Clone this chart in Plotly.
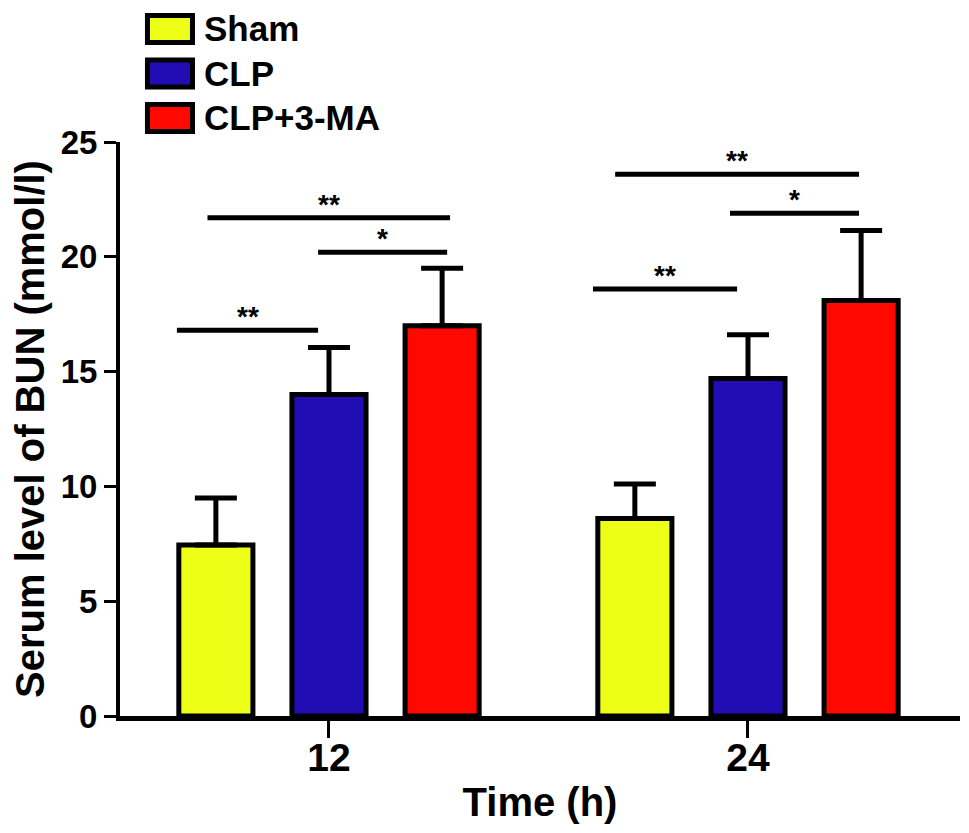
import plotly.graph_objects as go

# time points (h) and groups
times = ["12", "24"]
groups = ["Sham", "CLP", "CLP+3-MA"]
colors = ["#EEFF17", "#220DB4", "#FF0800"]

# mean serum BUN (mmol/l) and upper SEM
sham = [7.45, 8.6]
clp = [14.0, 14.7]
clp_3ma = [17.0, 18.1]
sham_err = [2.05, 1.5]
clp_err = [2.05, 1.9]
clp_3ma_err = [2.5, 3.05]

# significance brackets: time index, start/end offset from the time tick, height, label
sig_time = [0, 0, 0, 1, 1, 1]
sig_x0 = [-0.29, -0.026, -0.363, -0.317, -0.043, -0.37]
sig_x1 = [0.289, 0.282, -0.026, 0.265, 0.265, -0.026]
sig_y = [21.7, 20.2, 16.8, 23.6, 21.9, 18.6]
sig_label = ["**", "*", "**", "**", "*", "**"]

FONT = "Liberation Sans, Arial, sans-serif"
means = [sham, clp, clp_3ma]
errs = [sham_err, clp_err, clp_3ma_err]

fig = go.Figure()
for name, col, m, e in zip(groups, colors, means, errs):
    fig.add_trace(go.Bar(
        x=times, y=m, name=name,
        marker=dict(color=col, line=dict(color="black", width=5)),
        error_y=dict(type="data", array=e, arrayminus=[0] * len(e), symmetric=False,
                     color="black", thickness=5, width=21),
        showlegend=False,
    ))

shapes = []
annos = []
for t, a, b, y, lab in zip(sig_time, sig_x0, sig_x1, sig_y, sig_label):
    shapes.append(dict(type="line", xref="x", yref="y", x0=t + a, x1=t + b, y0=y, y1=y,
                       line=dict(color="black", width=5)))
    annos.append(dict(x=t + (a + b) / 2, y=y, xref="x", yref="y", text=lab, showarrow=False,
                      yanchor="bottom", yshift=-4,
                      font=dict(family=FONT, size=28, color="black", weight="bold")))

# hand-built legend with large boxes like the original
for i, (name, col) in enumerate(zip(groups, colors)):
    yc = 1.197 - i * 0.0775
    shapes.append(dict(type="rect", xref="paper", yref="paper",
                       x0=0.0327, x1=0.0863, y0=yc - 0.0235, y1=yc + 0.0235,
                       fillcolor=col, line=dict(color="black", width=5)))
    annos.append(dict(x=0.0975, y=yc, xref="paper", yref="paper", text=name, showarrow=False,
                      xanchor="left", yanchor="middle",
                      font=dict(family=FONT, size=35, color="black", weight="bold")))

# page body has an 8px margin, so the figure is a little smaller than the window
fig.update_layout(
    width=961, height=825,
    margin=dict(l=112, r=9, t=134, b=117),
    barmode="group", bargap=0.19, bargroupgap=0.345,
    plot_bgcolor="white", paper_bgcolor="white",
    shapes=shapes, annotations=annos,
    font=dict(family=FONT, color="black"),
)
fig.update_xaxes(
    range=[-0.4988, 1.506], showline=True, linecolor="black", linewidth=5,
    ticks="outside", ticklen=17, tickwidth=3, tickcolor="black",
    ticklabelstandoff=-14,
    tickfont=dict(family=FONT, size=39, weight="bold"),
    title=dict(text="Time (h)", font=dict(family=FONT, size=40, weight="bold"), standoff=12),
    showgrid=False, zeroline=False,
)
fig.update_yaxes(
    range=[0, 25], tickvals=[0, 5, 10, 15, 20, 25], showline=True, linecolor="black", linewidth=4,
    ticks="outside", ticklen=12, tickwidth=3, tickcolor="black",
    tickfont=dict(family=FONT, size=33, weight="bold"),
    title=dict(text="Serum level of BUN (mmol/l)", font=dict(family=FONT, size=40, weight="bold"),
               standoff=8),
    showgrid=False, zeroline=False,
)

fig.write_html("out.html")
